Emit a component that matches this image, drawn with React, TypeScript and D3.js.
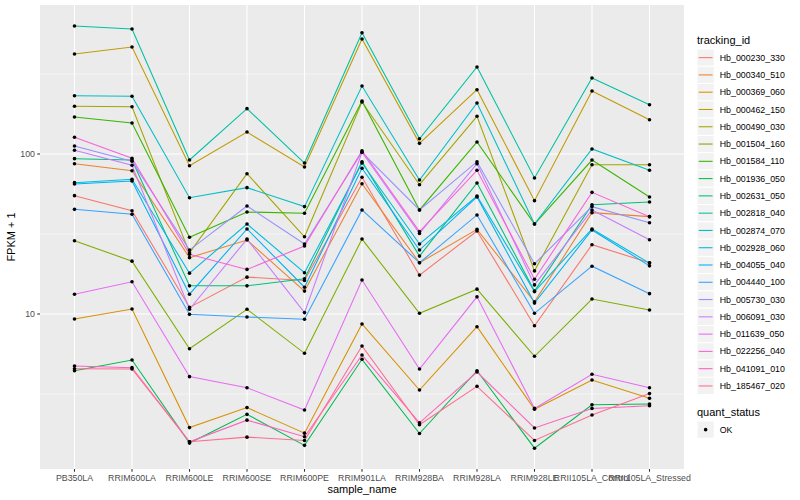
import React from "react";
import * as d3 from "d3";

const samples = [
  "PB350LA", "RRIM600LA", "RRIM600LE", "RRIM600SE", "RRIM600PE", "RRIM901LA",
  "RRIM928BA", "RRIM928LA", "RRIM928LE", "RRII105LA_Control", "RRII105LA_Stressed",
];

const trackingIds = [
  "Hb_000230_330", "Hb_000340_510", "Hb_000369_060", "Hb_000462_150", "Hb_000490_030",
  "Hb_001504_160", "Hb_001584_110", "Hb_001936_050", "Hb_002631_050", "Hb_002818_040",
  "Hb_002874_070", "Hb_002928_060", "Hb_004055_040", "Hb_004440_100", "Hb_005730_030",
  "Hb_006091_030", "Hb_011639_050", "Hb_022256_040", "Hb_041091_010", "Hb_185467_020",
];

const palette = [
  "#F8766D", "#EA8331", "#D89000", "#C09B00", "#A3A500", "#7CAE00", "#39B600", "#00BB4E",
  "#00BF7D", "#00C1A3", "#00BFC4", "#00BAE0", "#00B0F6", "#35A2FF", "#9590FF", "#C77CFF",
  "#E76BF3", "#FA62DB", "#FF62BC", "#FF6C91",
];

// FPKM + 1 per sample, in the order of `samples`
const hb000230_330 = [54.9, 44.2, 11.0, 17.0, 16.2, 71.5, 17.5, 33.0, 8.45, 27.1, 20.9];
const hb000340_510 = [87.0, 78.6, 22.5, 29.0, 13.9, 65.2, 20.9, 33.8, 11.9, 43.0, 40.6];
const hb000369_060 = [9.31, 10.74, 1.95, 2.6, 1.8, 8.66, 3.35, 8.33, 2.54, 3.87, 2.97];
const hb000462_150 = [421.7, 466.6, 84.5, 137.2, 82.9, 523.4, 116.6, 252.3, 51.1, 247.6, 163.8];
const hb000490_030 = [198.7, 197.5, 24.1, 75.3, 30.4, 211.3, 64.3, 172.0, 18.6, 85.7, 85.7];
const hb001504_160 = [28.7, 21.4, 6.07, 10.7, 5.68, 29.4, 10.1, 14.3, 5.44, 12.4, 10.6];
const hb001584_110 = [170.4, 156.3, 30.2, 43.4, 42.6, 214.4, 44.7, 118.9, 36.5, 91.7, 53.9];
const hb001936_050 = [4.42, 5.16, 1.56, 2.36, 1.51, 5.21, 1.79, 4.42, 1.45, 2.71, 2.74];
const hb002631_050 = [93.5, 91.7, 15.0, 15.0, 16.6, 89.5, 23.0, 65.9, 13.9, 48.2, 50.1];
const hb002818_040 = [631, 604, 91.7, 192, 87.8, 573, 124.6, 350, 70.8, 298.5, 203];
const hb002874_070 = [231.3, 229.4, 53.3, 61.6, 46.9, 266, 68.8, 208.2, 36.5, 107.5, 79.1];
const hb002928_060 = [66.2, 69.5, 18.0, 36.5, 18.1, 87.8, 27.4, 54.6, 13.8, 34.0, 20.8];
const hb004055_040 = [64.9, 67.8, 13.3, 34.0, 14.7, 81.4, 25.1, 53.9, 11.7, 33.5, 20.0];
const hb004440_100 = [45.1, 42.0, 9.95, 9.58, 9.27, 44.7, 20.9, 41.6, 10.1, 19.9, 13.4];
const hb005730_030 = [112.2, 90.0, 25.1, 47.3, 27.4, 102.5, 44.7, 89.5, 20.6, 46.9, 37.2];
const hb006091_030 = [105.5, 85.0, 10.7, 29.4, 10.2, 102.5, 31.9, 87.0, 15.2, 44.7, 29.1];
const hb011639_050 = [13.3, 15.9, 4.06, 3.46, 2.51, 16.3, 4.53, 12.8, 2.57, 4.2, 3.46];
const hb022256_040 = [127.2, 94.0, 23.6, 19.0, 26.6, 104.9, 32.7, 79.1, 16.5, 57.6, 40.6];
const hb041091_010 = [4.73, 4.62, 1.59, 2.17, 1.71, 5.54, 2.09, 4.34, 1.94, 2.57, 2.67];
const hb185467_020 = [4.55, 4.53, 1.59, 1.7, 1.62, 6.31, 2.03, 3.53, 1.62, 2.34, 3.18];

const seriesValues = [
  hb000230_330, hb000340_510, hb000369_060, hb000462_150, hb000490_030,
  hb001504_160, hb001584_110, hb001936_050, hb002631_050, hb002818_040,
  hb002874_070, hb002928_060, hb004055_040, hb004440_100, hb005730_030,
  hb006091_030, hb011639_050, hb022256_040, hb041091_010, hb185467_020,
];

const yTicks = [10, 100];
const yMinor = [Math.pow(10, 0.5), Math.pow(10, 1.5), Math.pow(10, 2.5)];
const quantStatus = ["OK"];

const W = 800;
const H = 500;
const panel = { left: 40, right: 684, top: 5, bottom: 469 };
const FONT = "'Liberation Sans', Arial, Helvetica, sans-serif";

export default function App() {
  const x = d3
    .scalePoint<string>()
    .domain(samples)
    .range([panel.left, panel.right])
    .padding(0.6);
  const y = d3
    .scaleLog()
    .domain([Math.pow(10, 0.03125), Math.pow(10, 2.93125)])
    .range([panel.bottom, panel.top]);

  const line = d3
    .line<number>()
    .x((_, i) => x(samples[i]) as number)
    .y((d) => y(d));

  const legendX = 697;
  const keyH = 17.28;
  const firstKey = 49;

  return (
    <svg
      width={W}
      height={H}
      style={{ position: "absolute", left: 0, top: 0, background: "#fff" }}
      fontFamily={FONT}
    >
      <rect
        x={panel.left}
        y={panel.top}
        width={panel.right - panel.left}
        height={panel.bottom - panel.top}
        fill="#EBEBEB"
      />
      {yMinor.map((v) => (
        <line
          key={"mn" + v}
          x1={panel.left}
          x2={panel.right}
          y1={y(v)}
          y2={y(v)}
          stroke="#fff"
          strokeWidth={0.55}
        />
      ))}
      {yTicks.map((v) => (
        <line
          key={"mj" + v}
          x1={panel.left}
          x2={panel.right}
          y1={y(v)}
          y2={y(v)}
          stroke="#fff"
          strokeWidth={1.1}
        />
      ))}
      {samples.map((s) => (
        <line
          key={"vg" + s}
          x1={x(s)}
          x2={x(s)}
          y1={panel.top}
          y2={panel.bottom}
          stroke="#fff"
          strokeWidth={1.1}
        />
      ))}

      {seriesValues.map((vals, i) => (
        <path
          key={"l" + i}
          d={line(vals) || ""}
          fill="none"
          stroke={palette[i]}
          strokeWidth={1.07}
        />
      ))}
      {seriesValues.map((vals, i) =>
        vals.map((v, j) => (
          <circle
            key={"p" + i + "-" + j}
            cx={x(samples[j])}
            cy={y(v)}
            r={1.8}
            fill="#000"
          />
        ))
      )}

      {/* y axis */}
      {yTicks.map((v) => (
        <g key={"yt" + v}>
          <line x1={panel.left - 2.75} x2={panel.left} y1={y(v)} y2={y(v)} stroke="#333" strokeWidth={1.07} />
          <text
            x={panel.left - 5}
            y={y(v)}
            dy="0.35em"
            textAnchor="end"
            fontSize={8.8}
            fill="#4D4D4D"
          >
            {v}
          </text>
        </g>
      ))}
      {/* x axis */}
      {samples.map((s) => (
        <g key={"xt" + s}>
          <line x1={x(s)} x2={x(s)} y1={panel.bottom} y2={panel.bottom + 2.75} stroke="#333" strokeWidth={1.07} />
          <text
            x={x(s)}
            y={panel.bottom + 11.5}
            textAnchor="middle"
            fontSize={8.8}
            fill="#4D4D4D"
          >
            {s}
          </text>
        </g>
      ))}
      <text
        x={(panel.left + panel.right) / 2}
        y={493}
        textAnchor="middle"
        fontSize={11}
        fill="#000"
      >
        sample_name
      </text>
      <text
        transform={`translate(15,${(panel.top + panel.bottom) / 2}) rotate(-90)`}
        textAnchor="middle"
        fontSize={11}
        fill="#000"
      >
        FPKM + 1
      </text>

      {/* legend: tracking_id */}
      <text x={legendX} y={44} fontSize={11} fill="#000">
        tracking_id
      </text>
      {trackingIds.map((id, i) => {
        const ky = firstKey + i * keyH;
        return (
          <g key={"lg" + id}>
            <rect x={legendX} y={ky} width={keyH} height={keyH} fill="#F2F2F2" stroke="#fff" strokeWidth={1} />
            <line
              x1={legendX + 1.7}
              x2={legendX + keyH - 1.7}
              y1={ky + keyH / 2}
              y2={ky + keyH / 2}
              stroke={palette[i]}
              strokeWidth={1.07}
            />
            <text x={legendX + keyH + 5.5} y={ky + keyH / 2} dy="0.35em" fontSize={8.8} fill="#000">
              {id}
            </text>
          </g>
        );
      })}

      {/* legend: quant_status */}
      <text x={legendX} y={416} fontSize={11} fill="#000">
        quant_status
      </text>
      {quantStatus.map((q, i) => {
        const ky = 421 + i * keyH;
        return (
          <g key={"qs" + q}>
            <rect x={legendX} y={ky} width={keyH} height={keyH} fill="#F2F2F2" stroke="#fff" strokeWidth={1} />
            <circle cx={legendX + keyH / 2} cy={ky + keyH / 2} r={1.8} fill="#000" />
            <text x={legendX + keyH + 5.5} y={ky + keyH / 2} dy="0.35em" fontSize={8.8} fill="#000">
              {q}
            </text>
          </g>
        );
      })}
    </svg>
  );
}
